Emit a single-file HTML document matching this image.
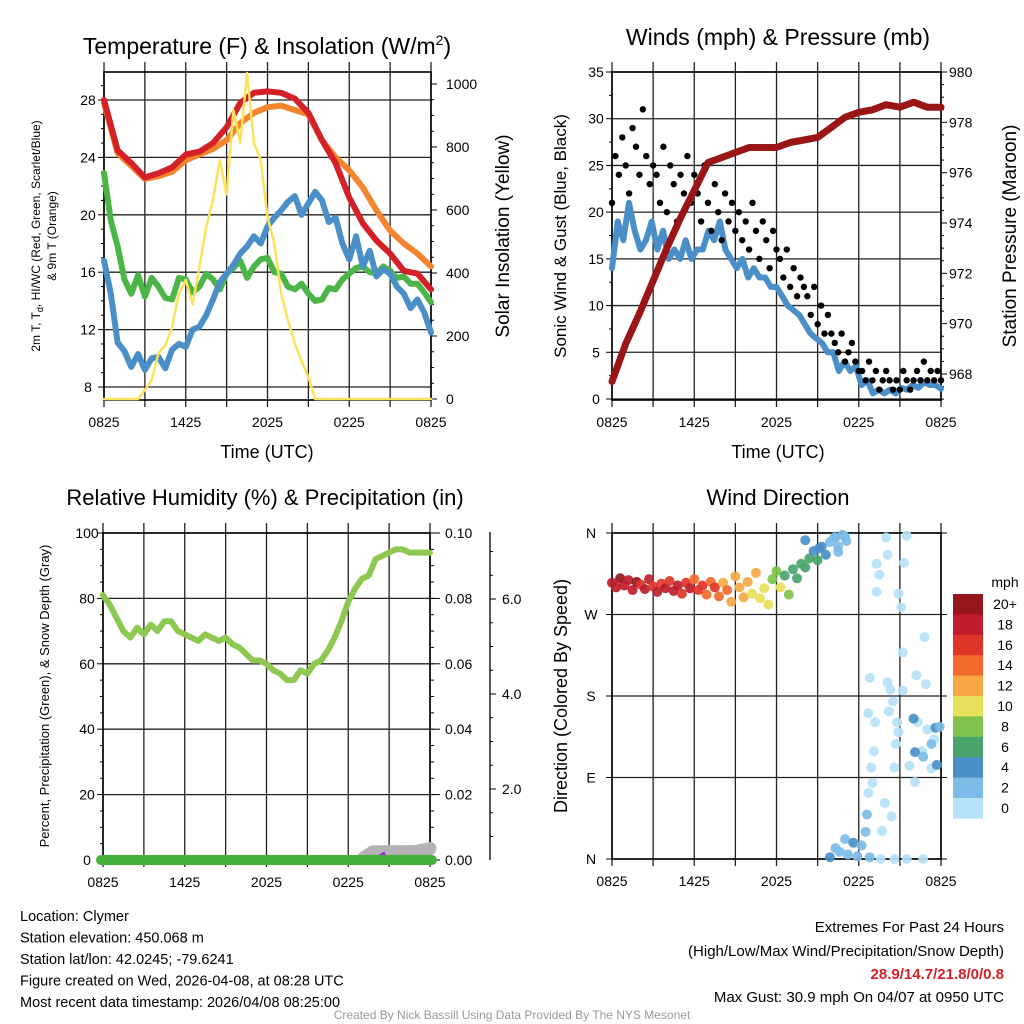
<!DOCTYPE html>
<html><head><meta charset="utf-8">
<style>
html,body{margin:0;padding:0;background:#fff;}
svg{display:block;font-family:"Liberation Sans",Arial,sans-serif;}
</style></head>
<body>
<svg id="chart" width="1024" height="1024" viewBox="0 0 1024 1024" xmlns="http://www.w3.org/2000/svg">
<rect x="0" y="0" width="1024" height="1024" fill="#fff"/>
</svg>
<script>
// ---------- DATA ----------
const timeTicks = ["0825","1425","2025","0225","0825"];
const tempRed = [28.0,24.5,23.6,22.6,22.9,23.3,24.2,24.4,25.0,26.1,27.8,28.5,28.6,28.5,28.1,27.1,25.2,23.6,21.2,19.4,18.2,17.3,16.1,15.9,14.8];
const tempOrange = [27.8,24.3,23.4,22.5,22.7,23.0,23.8,24.2,24.6,25.2,26.4,27.1,27.5,27.6,27.3,27.0,25.2,24.0,23.1,21.9,20.3,18.9,18.0,17.3,16.4];
const tempGreen = [22.9,19.6,17.8,15.5,14.5,15.8,14.3,15.6,15.0,14.2,14.1,15.6,15.5,14.6,15.0,15.9,15.5,14.8,15.9,16.3,16.8,15.6,16.4,16.9,17.0,16.0,15.9,15.0,14.8,15.2,14.5,14.0,14.1,14.9,14.8,15.5,15.9,16.3,16.4,16.0,15.9,16.4,16.1,15.6,15.7,15.2,15.2,14.6,13.9];
const tempBlue = [16.8,14.5,11.1,10.5,9.4,10.3,9.2,10.0,10.1,9.3,10.6,11.0,10.8,12.0,12.2,13.0,14.1,15.3,15.9,16.5,17.3,17.8,18.5,18.0,19.2,19.8,20.3,20.9,21.3,20.0,20.8,21.6,21.0,19.5,19.8,18.0,16.9,18.5,16.4,17.5,15.7,16.2,15.9,15.0,14.5,13.5,14.1,13.2,11.8];
const insolation = [0,0,0,0,0,0,29,60,146,170,229,336,378,300,419,546,632,759,650,917,813,1035,813,759,578,495,336,250,178,120,70,0,0,0,0,0,0,0,0,0,0,0,0,0,0,0,0,0,0];
const tempTicks = [8,12,16,20,24,28];
const insTicks = [0,200,400,600,800,1000];

const windSpeed = [14,19,17,21,18,16,17,19,16,18,15,16,15,17,15,16,16,18,17,19,16,15,14,15,13,14,13,13,12,12,11,10,9.5,9,8,7,6.5,6,5,5,3,4,3,3.5,1.5,2,0.6,1,0.6,1,0.6,1.2,1,1.5,1.2,1.8,1.5,1.5,1.1];
const gusts = [21,26,24,28,25,22,29,27,24,31,26,23,25,24,21,27,20,25,23,19,24,22,26,21,24,22,19,25,21,18,23,20,17,22,19,21,18,20,17,19,16,21,18,15,19,17,14,18,16,15,13,16,12,14,11,13,12,11,9,12,8,10,7,9,7,6,5,7,4,5,6,4,3,3,2,4,2,3,1,2,3,2,1,2,1,3,2,1,2,3,2,4,2,3,2,3,2];
const pressure = [967.7,969.2,970.4,971.7,973.0,974.2,975.3,976.4,976.6,976.8,977.0,977.0,977.0,977.2,977.3,977.4,977.8,978.2,978.4,978.5,978.7,978.6,978.8,978.6,978.6];
const windTicks = [0,5,10,15,20,25,30,35];
const presTicks = [968,970,972,974,976,978,980];

const rhValues = [81,78,74,70,68,71,69,72,70,73,73,70,69,68,67,69,68,67,68,66,65,63,61,61,60,58,57,55,55,58,57,60,61,64,68,73,79,83,86,87,92,93,94,95,95,94,94,94,94];
const rhTicks = [0,20,40,60,80,100];
const precipTicks = ["0.00","0.02","0.04","0.06","0.08","0.10"];
const snowTicks = ["2.0","4.0","6.0"];

const dirTimes = [0,0.3,0.6,0.9,1.2,1.5,1.8,2.1,2.4,2.7,3.0,3.3,3.6,3.9,4.2,4.5,4.8,5.1,5.4,5.7,6.0,6.3,6.6,6.9,7.2,7.5,7.8,8.1,8.4,8.7,9.0,9.3,9.6,9.9,10.2,10.5,10.8,11.1,11.4,11.7,12.0,12.3,12.6,12.9,13.2,13.5,13.8,14.1,14.4,14.7,15.0,15.3,15.6,15.9,16.2,16.5,16.8,17.1,15.1,14.1,16.5,16.3,17.0,
 15.9,16.3,16.6,17.0,17.2,17.6,17.9,18.2,18.5,18.8,18.6,
 18.8,20.1,18.7,19.2,19.1,18.9,19.0,18.7,19.9,20.4,19.7,20.6,20.7,20.9,20.8,20.2,20.5,20.3,21.2,21.2,22.8,22.2,22.9,22.3,23.0,23.5,22.6,21.7,22.1,23.3,19.3,19.5,19.3,20.1,20.0,21.5,21.3,20.9,21.1,22.7,21.5,20.6,19.6,
 22.0,23.6,22.1,22.7,23.7,23.3,23.9];
const dirValues = [305,300,310,302,308,297,306,303,298,309,301,295,304,299,307,296,302,293,305,299,309,297,302,292,306,300,290,305,297,284,312,300,289,306,293,316,288,299,281,309,318,300,313,292,320,310,326,322,332,340,330,345,336,350,355,345,358,351,343,352,339,355,356,
 2,12,8,22,5,18,3,15,30,2,49,
 200,195,161,151,119,101,84,73,62,47,31,101,127,140,151,163,174,187,186,228,245,203,193,151,143,132,119,103,85,100,295,314,326,336,355,357,327,293,278,0,0,0,0,
 155,145,118,113,104,127,146];
const dirSpeeds = [19,18,20,19,18,19,20,17,18,19,17,18,16,18,17,19,18,17,16,18,15,17,16,15,14,16,15,13,15,13,12,13,12,13,11,12,10,11,10,9,8,10,7,9,7,6,7,6,7,5,6,4,4,3,3,3,2,2,4,4,3,2,2,
 4,3,2,3,2,4,3,2,3,2,3,
 1,1,1,1,1,1,1,1,1,1,1,1,1,1,1,1,1,1,1,1,1,1,1,1,1,1,1,1,1,1,1,1,1,1,1,1,1,1,1,1,1,1,1,
 4,4,4,3,4,3,3];
const speedBins = ["0","2","4","6","8","10","12","14","16","18","20+"];
const binColors = ["#b5e2f8","#7dbce7","#4b8fc7","#49a46c","#7fc24b","#e7e05a","#f7a845","#f26a2b","#e0362a","#bf1d2b","#95171c"];

// ---------- HELPERS ----------
const NS = "http://www.w3.org/2000/svg";
const svg = document.getElementById("chart");
function mk(tag, attrs, name, parent) {
  const el = document.createElementNS(NS, tag);
  for (const k in attrs) el.setAttribute(k, attrs[k]);
  
  
  (parent || svg).appendChild(el);
  return el;
}
function txt(x, y, s, size, anchor, name, extra) {
  const t = mk("text", Object.assign({x:x, y:y, "font-size":size, "text-anchor":anchor||"middle", fill:"#000"}, extra||{}), name);
  t.textContent = s;
  return t;
}
function lin(d0, d1, r0, r1) { return v => r0 + (v - d0) / (d1 - d0) * (r1 - r0); }
function pathFrom(xs, ys) {
  let d = "";
  for (let i = 0; i < xs.length; i++) d += (i ? "L" : "M") + xs[i].toFixed(1) + "," + ys[i].toFixed(1);
  return d;
}
function series(vals, sx, sy, color, w, name) {
  const n = vals.length;
  const xs = vals.map((v, i) => sx(i * 24 / (n - 1)));
  const ys = vals.map(v => sy(v));
  mk("path", {d: pathFrom(xs, ys), fill:"none", stroke:color, "stroke-width":w, "stroke-linejoin":"round", "stroke-linecap":"round"}, name);
}
function panelFrame(x0, x1, y0, y1, hVals, sy, prefix) {
  const sx = lin(0, 24, x0, x1);
  for (let h = 0; h <= 24; h += 3) {
    mk("line", {x1:sx(h), x2:sx(h), y1:y0 - 10, y2:y1 + 7, stroke:"#222", "stroke-width":1.3}, prefix + "-vgrid");
  }
  hVals.forEach(v => mk("line", {x1:x0, x2:x1, y1:sy(v), y2:sy(v), stroke:"#222", "stroke-width":1.3}, prefix + "-hgrid"));
  mk("rect", {x:x0, y:y0, width:x1 - x0, height:y1 - y0, fill:"none", stroke:"#000", "stroke-width":1.6}, prefix + "-frame");
  timeTicks.forEach((s, i) => txt(sx(i * 6), y1 + 27, s, 14, "middle", prefix + "-x-tick-label"));
  return sx;
}

// ---------- PANEL 1 ----------
(function(){
  const x0 = 104, x1 = 431, y0 = 72, y1 = 400;
  const sy = lin(8, 28, 387, 100);
  const sIns = lin(0, 1000, 399, 84);
  const sx = panelFrame(x0, x1, y0, y1, tempTicks, sy, "temp");
  for (let v = 8; v <= 29; v++) mk("line", {x1:x0 - (v % 4 === 0 ? 6 : 3), x2:x0, y1:sy(v), y2:sy(v), stroke:"#000"}, "temp-y-tick");
  tempTicks.forEach(v => txt(x0 - 16, sy(v) + 5, String(v), 14, "middle", "temp-y-tick-label"));
  for (let v = 0; v <= 1000; v += 50) mk("line", {x1:x1, x2:x1 + (v % 200 === 0 ? 6 : 3), y1:sIns(v), y2:sIns(v), stroke:"#000"}, "insolation-y-tick");
  insTicks.forEach(v => txt(x1 + 15, sIns(v) + 5, String(v), 14, "start", "insolation-y-tick-label"));
  series(tempGreen, sx, sy, "#4bb548", 6, "dewpoint-line");
  series(tempBlue, sx, sy, "#4a8fc8", 6, "windchill-line");
  series(tempOrange, sx, sy, "#f5842e", 6, "temp-9m-line");
  series(tempRed, sx, sy, "#d42027", 6, "temp-2m-line");
  series(insolation, sx, sIns, "#fce25a", 2.5, "insolation-line");
  const t = txt(267, 54, "Temperature (F) & Insolation (W/m", 23, "middle", "temp-panel-title");
  const sup = document.createElementNS(NS, "tspan"); sup.setAttribute("dy", "-9"); sup.setAttribute("font-size", "14"); sup.textContent = "2"; t.appendChild(sup);
  const cl = document.createElementNS(NS, "tspan"); cl.setAttribute("dy", "9"); cl.textContent = ")"; t.appendChild(cl);
  txt(267, 458, "Time (UTC)", 18, "middle", "temp-x-axis-title");
  txt(0, 0, "2m T, T", 12, "middle", "temp-y-axis-title-1", {transform:"translate(40,236) rotate(-90)"}).innerHTML = '2m T, T<tspan dy="3" font-size="9">d</tspan><tspan dy="-3">, HI/WC (Red, Green, Scarlet/Blue)</tspan>';
  txt(0, 0, "& 9m T (Orange)", 12, "middle", "temp-y-axis-title-2", {transform:"translate(56,236) rotate(-90)"});
  txt(0, 0, "Solar Insolation (Yellow)", 19, "middle", "insolation-axis-title", {transform:"translate(509,236) rotate(-90)"});
})();

// ---------- PANEL 2 ----------
(function(){
  const x0 = 612, x1 = 941, y0 = 72, y1 = 400;
  const sy = lin(0, 35, 399, 72);
  const sp = lin(968, 980, 374, 72);
  const sx = panelFrame(x0, x1, y0, y1, windTicks, sy, "wind");
  for (let v = 0; v <= 35; v += 2.5) mk("line", {x1:x0 - (v % 5 === 0 ? 6 : 3), x2:x0, y1:sy(v), y2:sy(v), stroke:"#000"}, "wind-y-tick");
  windTicks.forEach(v => txt(x0 - 16, sy(v) + 5, String(v), 14, "middle", "wind-y-tick-label"));
  for (let v = 967; v <= 980; v += 0.5) mk("line", {x1:x1, x2:x1 + (v % 2 === 0 ? 6 : 3), y1:sp(v), y2:sp(v), stroke:"#000"}, "pressure-y-tick");
  presTicks.forEach(v => txt(x1 + 8, sp(v) + 5, String(v), 14, "start", "pressure-y-tick-label"));
  series(windSpeed, sx, sy, "#4a8fc8", 6, "wind-speed-line");
  gusts.forEach((g, i) => {
    mk("circle", {cx:sx(i * 24 / (gusts.length - 1)), cy:sy(g), r:3.2, fill:"#000"}, "gust-point");
  });
  series(pressure, sx, sp, "#9a1515", 7, "pressure-line");
  txt(778, 45, "Winds (mph) & Pressure (mb)", 23, "middle", "wind-panel-title");
  txt(778, 458, "Time (UTC)", 18, "middle", "wind-x-axis-title");
  txt(0, 0, "Sonic Wind & Gust (Blue, Black)", 17, "middle", "wind-y-axis-title", {transform:"translate(566,236) rotate(-90)"});
  txt(0, 0, "Station Pressure (Maroon)", 19, "middle", "pressure-axis-title", {transform:"translate(1016,236) rotate(-90)"});
})();

// ---------- PANEL 3 ----------
(function(){
  const x0 = 103, x1 = 430, y0 = 533, y1 = 860;
  const sy = lin(0, 100, 860, 533);
  const sx = panelFrame(x0, x1, y0, y1, rhTicks, sy, "rh");
  for (let v = 0; v <= 100; v += 5) mk("line", {x1:x0 - (v % 20 === 0 ? 6 : 3), x2:x0, y1:sy(v), y2:sy(v), stroke:"#000"}, "rh-y-tick");
  rhTicks.forEach(v => txt(x0 - 16, sy(v) + 5, String(v), 14, "middle", "rh-y-tick-label"));
  precipTicks.forEach((s, i) => { mk("line", {x1:x1, x2:x1 + 10, y1:sy(i * 20), y2:sy(i * 20), stroke:"#000"}, "precip-y-tick"); txt(x1 + 15, sy(i * 20) + 5, s, 14, "start", "precip-y-tick-label"); });
  for (let v = 0; v <= 100; v += 5) mk("line", {x1:x1, x2:x1 + 4, y1:sy(v), y2:sy(v), stroke:"#000"}, "precip-minor-tick");
  const ss = lin(0, 2, 884, 789);
  mk("line", {x1:490, x2:490, y1:532, y2:860, stroke:"#000", "stroke-width":1.3}, "snow-axis-line");
  for (let v = 0.5; v <= 7.5; v += 0.5) { const yy = ss(v); if (yy >= 532 && yy <= 860) mk("line", {x1:490, x2:490 + (v % 2 === 0 ? 6 : 3), y1:yy, y2:yy, stroke:"#000"}, "snow-y-tick"); }
  snowTicks.forEach(s => txt(502, ss(parseFloat(s)) + 5, s, 14, "start", "snow-y-tick-label"));
  mk("path", {d:"M" + sx(19.1) + "," + (sy(0.5)) + "L" + sx(19.8) + "," + sy(2.5) + "L" + sx(23) + "," + sy(2.6) + "L" + sx(24) + "," + sy(3.5), fill:"none", stroke:"#b3b3b3", "stroke-width":13, "stroke-linecap":"round", "stroke-linejoin":"round"}, "snow-depth-line");
  mk("path", {d:"M" + sx(20.3) + "," + sy(1.2) + "L" + sx(20.7) + "," + sy(2.2), fill:"none", stroke:"#a020f0", "stroke-width":3}, "precip-trace");
  series(rhValues, sx, sy, "#8ec850", 6, "rh-line");
  mk("line", {x1:x0 - 2, x2:x1 + 2, y1:y1, y2:y1, stroke:"#46b03f", "stroke-width":10, "stroke-linecap":"round"}, "precip-line");
  txt(265, 505, "Relative Humidity (%) & Precipitation (in)", 22, "middle", "rh-panel-title");
  txt(0, 0, "Percent, Precipitation (Green), & Snow Depth (Gray)", 13, "middle", "rh-y-axis-title", {transform:"translate(49,696) rotate(-90)"});
})();

// ---------- PANEL 4 ----------
(function(){
  const x0 = 612, x1 = 941, y0 = 533, y1 = 859;
  const sy = lin(0, 360, 859, 533);
  const dirTicks = [0,90,180,270,360], dirLabels = ["N","E","S","W","N"];
  const sx = panelFrame(x0, x1, y0, y1, dirTicks, sy, "dir");
  dirTicks.forEach((v, i) => { mk("line", {x1:x0 - 6, x2:x0, y1:sy(v), y2:sy(v), stroke:"#000"}, "dir-y-tick"); mk("line", {x1:x1, x2:x1 + 6, y1:sy(v), y2:sy(v), stroke:"#000"}, "dir-y-tick-right"); txt(x0 - 21, sy(v) + 5, dirLabels[i], 14, "middle", "dir-y-tick-label"); });
  dirTimes.forEach((t, i) => {
    const s = dirSpeeds[i];
    const b = Math.min(10, Math.floor(s / 2));
    mk("circle", {cx:sx(t), cy:sy(dirValues[i]), r:5, fill:binColors[b], "fill-opacity":0.92}, "direction-point");
  });
  txt(778, 505, "Wind Direction", 22, "middle", "dir-panel-title");
  txt(0, 0, "Direction (Colored By Speed)", 18, "middle", "dir-y-axis-title", {transform:"translate(567,696) rotate(-90)"});
  const cbTop = 594, cbH = 20.4;
  txt(1005, 587, "mph", 14, "middle", "colorbar-title");
  for (let i = 0; i < 11; i++) {
    const idx = 10 - i;
    mk("rect", {x:953, y:cbTop + i * cbH, width:30, height:cbH + 0.3, fill:binColors[idx]}, "colorbar-box");
    txt(1005, cbTop + i * cbH + 15, speedBins[idx], 14, "middle", "colorbar-label");
  }
})();

// ---------- FOOTER TEXT ----------
const leftLines = ["Location: Clymer","Station elevation: 450.068 m","Station lat/lon: 42.0245; -79.6241","Figure created on Wed, 2026-04-08, at 08:28 UTC","Most recent data timestamp: 2026/04/08 08:25:00"];
leftLines.forEach((s, i) => txt(20, 921 + i * 21.5, s, 14.5, "start", "station-info-line"));
txt(1004, 932, "Extremes For Past 24 Hours", 15, "end", "extremes-title");
txt(1004, 956, "(High/Low/Max Wind/Precipitation/Snow Depth)", 15, "end", "extremes-subtitle");
txt(1004, 979, "28.9/14.7/21.8/0/0.8", 15, "end", "extremes-values", {fill:"#d42027", "font-weight":"bold"});
txt(1004, 1002, "Max Gust: 30.9 mph On 04/07 at 0950 UTC", 15, "end", "max-gust-text");
txt(512, 1019, "Created By Nick Bassill Using Data Provided By The NYS Mesonet", 12, "middle", "credit-text", {fill:"#999"});
</script>
</body></html>
